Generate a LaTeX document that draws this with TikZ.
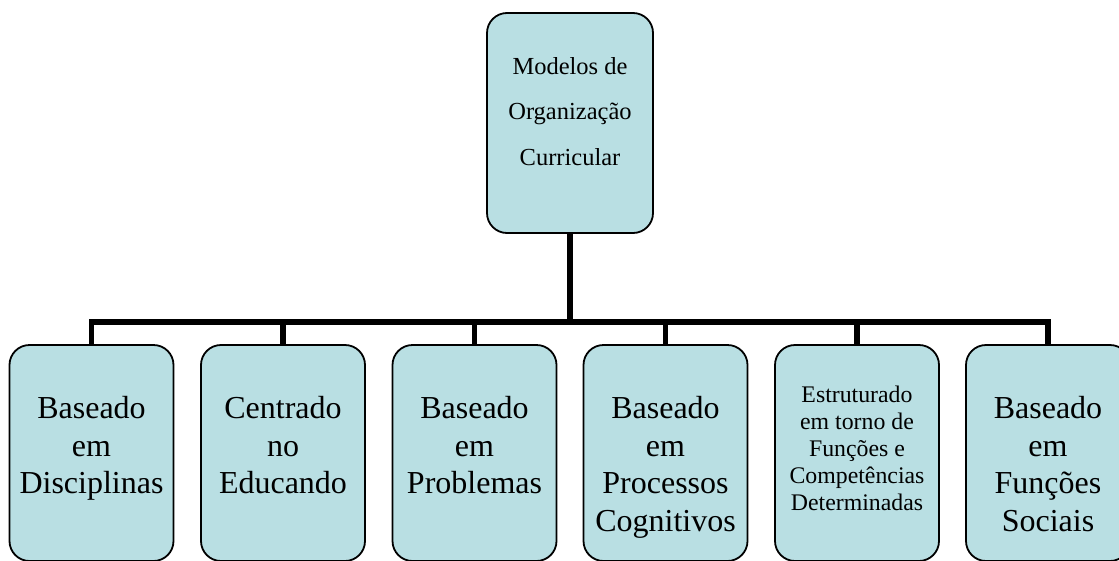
\documentclass[tikz,border=0pt]{standalone}
\usepackage{fontspec}
\setmainfont{Liberation Serif}
\definecolor{boxfill}{RGB}{185,223,227}
\begin{document}
\begin{tikzpicture}[x=1pt,y=-1pt,
  box/.style={draw=black, line width=1.8pt, fill=boxfill, rounded corners=20pt,
    minimum width=164pt, minimum height=216pt, inner sep=0pt},
  bigtxt/.style={align=center, inner sep=0pt, font=\fontsize{32}{37.5}\selectfont},
  smalltxt/.style={align=center, inner sep=0pt, font=\fontsize{23.8}{27}\selectfont},
  toptxt/.style={align=center, inner sep=0pt, font=\fontsize{24.5}{45.5}\selectfont},
  conn/.style={draw=black, line width=5.5pt, line join=miter}
]
\useasboundingbox (0,0) rectangle (1119,560);
% top node
\node[box, minimum width=166pt, minimum height=220pt] (top) at (570,123) {};
\node[toptxt, below=45pt] (ttop) at (top.north) {Modelos de\\Organização\\Curricular};
% bottom boxes
\node[box] (b1) at (91.5,453) {};
\node[box] (b2) at (283,453) {};
\node[box] (b3) at (474.5,453) {};
\node[box] (b4) at (665.5,453) {};
\node[box] (b5) at (857,453) {};
\node[box] (b6) at (1048,453) {};
\node[bigtxt, below=52pt] (t1) at (b1.north) {Baseado\\em\\Disciplinas};
\node[bigtxt, below=52pt] (t2) at (b2.north) {Centrado\\no\\Educando};
\node[bigtxt, below=52pt] (t3) at (b3.north) {Baseado\\em\\Problemas};
\node[bigtxt, below=52pt] (t4) at (b4.north) {Baseado\\em\\Processos\\Cognitivos};
\node[smalltxt, below=42pt] (t5) at (b5.north) {Estruturado\\em torno de\\Funções e\\Competências\\Determinadas};
\node[bigtxt, below=52pt] (t6) at (b6.north) {Baseado\\em\\Funções\\Sociais};
% connectors
\coordinate (bar) at (570,322);
\draw[conn] (top.south) -- (top.south |- bar);
\draw[conn] (b1.north) -- (b1.north |- bar) -- (b6.north |- bar) -- (b6.north);
\draw[conn] (b2.north) -- (b2.north |- bar);
\draw[conn] (b3.north) -- (b3.north |- bar);
\draw[conn] (b4.north) -- (b4.north |- bar);
\draw[conn] (b5.north) -- (b5.north |- bar);
\end{tikzpicture}
\end{document}
